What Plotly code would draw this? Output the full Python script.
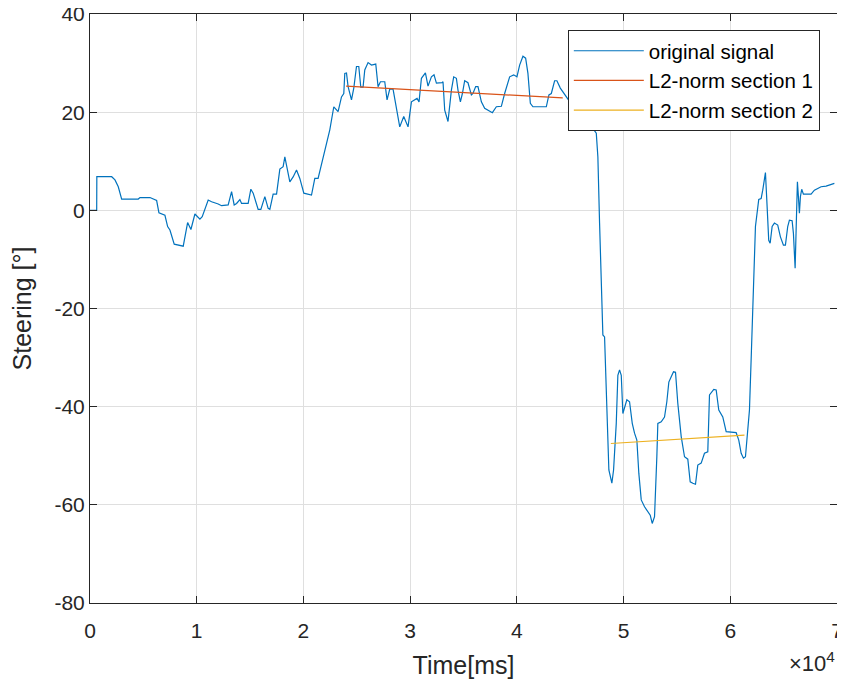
import plotly.graph_objects as go

# original steering signal (time in ms, angle in degrees)
time_ms = [0, 627, 640, 2032, 2341, 2650, 2968, 4522, 4682, 5618, 6245, 6460, 7022, 7275, 7490,
           7893, 8736, 9148, 9457, 9831, 10299, 10515, 11076, 11395, 12013, 12331, 12949, 13267,
           13511, 13736, 14045, 14203, 14821, 15074, 15290, 15758, 16011, 16385, 16694, 16853,
           17162, 17481, 17790, 18099, 18258, 18417, 18726, 19035, 19353, 19662, 20037, 20757,
           21067, 21376, 21844, 22471, 22846, 23248, 23567, 23782, 23876, 24035, 24185, 24503,
           24718, 24971, 25186, 25374, 25589, 25748, 26057, 26376, 26778, 26994, 27218, 27621,
           27836, 28089, 28398, 28651, 29025, 29400, 29802, 30121, 30430, 30645, 30833, 31057,
           31431, 31675, 31993, 32237, 32462, 32986, 33080, 33239, 33548, 33866, 34081, 34334,
           34484, 34709, 34896, 35111, 35420, 35738, 35888, 36141, 36357, 36675, 36984, 37293,
           37705, 38079, 38547, 38856, 39325, 39699, 40008, 40261, 40570, 40823, 41038, 41263,
           41506, 42761, 43004, 43229, 43538, 43753, 44072, 45000, 45900, 46628, 47124, 47443,
           47592, 47751, 47910, 48060, 48219, 48379, 48622, 48903, 49062, 49315, 49465, 49624,
           49783, 49933, 50092, 50308, 50560, 50813, 51028, 51244, 51431, 51656, 51965, 52274,
           52498, 52685, 52901, 53118, 53211, 53528, 53837, 54054, 54241, 54465, 54680, 54867,
           55082, 55401, 55710, 56019, 56243, 56487, 56740, 56955, 57273, 57582, 57891, 58051,
           58454, 58678, 58922, 59297, 59615, 60550, 60794, 61019, 61234, 61421, 61636, 61796,
           61983, 62198, 62358, 62667, 62891, 63041, 63294, 63453, 63603, 63735, 63922, 64137,
           64446, 64698, 64979, 65167, 65382, 65541, 65794, 65916, 66076, 66169, 66290, 66384,
           66477, 66571, 66693, 66852, 67572, 67882, 68350, 68509, 68978, 69286, 69595, 69754]
steering = [0, 0, 6.85, 6.85, 6.2, 4.8, 2.3, 2.3, 2.6, 2.6, 2.0, -0.5, -1.0, -3.3, -4.0,
            -6.9, -7.3, -2.5, -3.9, -0.75, -1.8, -1.3, 2.1, 1.75, 1.3, 0.95, 1.1, 3.8,
            1.1, 1.4, 2.2, 1.4, 1.4, 4.3, 3.5, 0.2, 0.2, 2.8, 0.4, 0.2,
            3.3, 3.3, 8.4, 8.9, 10.9, 9.2, 5.8, 6.8, 8.2, 6.5, 3.5, 3.1,
            6.5, 6.5, 10.9, 16.4, 21.1, 20.1, 23.1, 23.8, 27.9, 28.0, 25.2, 22.5,
            24.9, 29.3, 29.3, 25.1, 25.1, 28.6, 30.1, 29.6, 29.8, 25.2, 26.2, 26.2,
            22.5, 24.7, 24.7, 21.8, 17.0, 19.1, 17.0, 22.1, 22.5, 22.8, 22.1, 26.9,
            28.0, 25.3, 27.2, 27.6, 25.9, 26.0, 26.2, 20.4, 18.1, 24.5, 27.2, 26.9,
            24.5, 22.1, 23.8, 26.4, 26.0, 23.5, 23.8, 25.2, 25.2, 22.1, 20.8, 20.4,
            19.9, 21.1, 21.2, 23.8, 27.2, 27.6, 27.2, 29.6, 31.4, 31.0, 27.9, 21.8,
            21.1, 21.1, 23.5, 23.8, 26.4, 26.4, 24.9, 22.0, 19.0, 17.6, 16.7, 15.7,
            10.9, -2.6, -16.2, -25.4, -25.8, -36.6, -52.9, -55.6, -52.9, -43.4, -33.6, -32.5,
            -33.6, -41.4, -40.0, -38.6, -39.0, -43.4, -45.4, -46.8, -53.6, -59.0, -60.4, -61.4,
            -62.1, -63.8, -62.4, -50.2, -43.4, -43.1, -42.1, -39.0, -35.0, -33.9, -32.9, -33.0,
            -39.3, -46.1, -50.2, -50.7, -55.3, -55.6, -55.8, -51.9, -51.5, -49.5, -49.2, -37.6,
            -36.5, -36.6, -40.7, -42.1, -45.1, -45.3, -46.8, -49.5, -50.5, -50.2, -43.7, -40.7,
            -28.5, -14.2, -3.3, 2.2, 2.4, 4.1, 7.7, 0.7, -6.1, -6.7, -3.3, -2.6,
            -3.0, -5.4, -7.1, -7.1, -3.3, -2.0, -2.1, -4.7, -11.8, -4.0, 5.8, 2.8,
            -0.6, 2.8, 4.3, 3.3, 3.3, 4.1, 4.7, 4.8, 4.95, 5.2, 5.5, 5.5]

# linear L2-norm fits per section
sec1_time = [24000, 44300]
sec1_val = [25.3, 22.9]
sec2_time = [48810, 61330]
sec2_val = [-47.5, -45.8]

x_ticks = [0, 10000, 20000, 30000, 40000, 50000, 60000, 70000]
x_ticklabels = ["0", "1", "2", "3", "4", "5", "6", "7"]
y_ticks = [-80, -60, -40, -20, 0, 20, 40]
y_ticklabels = ["-80", "-60", "-40", "-20", "0", "20", "40"]

fig = go.Figure()
fig.add_trace(go.Scatter(x=time_ms, y=steering, mode="lines", name="original signal",
                         line=dict(color="#0072BD", width=1.2)))
fig.add_trace(go.Scatter(x=sec1_time, y=sec1_val, mode="lines", name="L2-norm section 1",
                         line=dict(color="#D95319", width=1.2)))
fig.add_trace(go.Scatter(x=sec2_time, y=sec2_val, mode="lines", name="L2-norm section 2",
                         line=dict(color="#EDB120", width=1.2)))

axis_style = dict(showline=True, linecolor="#262626", linewidth=1, mirror="ticks",
                  ticks="inside", ticklen=7, tickcolor="#262626", automargin=False,
                  ticklabeloverflow="allow",
                  showgrid=True, gridcolor="#dfdfdf", gridwidth=1, zeroline=False,
                  tickfont=dict(size=21, color="#262626"))

fig.update_xaxes(range=[0, 70000], tickvals=x_ticks, ticktext=x_ticklabels,
                 ticklabelstandoff=9,
                 title=dict(text="Time[ms]", font=dict(size=25, color="#262626")),
                 **axis_style)
fig.update_yaxes(range=[-80, 40], tickvals=y_ticks, ticktext=y_ticklabels,
                 title=dict(text="Steering [°]", font=dict(size=25, color="#262626")),
                 **axis_style)

fig.add_annotation(text="×10<sup>4</sup>", xref="paper", yref="paper", x=1.0, y=-0.1,
                   xanchor="right", yanchor="middle", showarrow=False,
                   font=dict(size=22, color="#262626"))

# page body has an 8px margin, so the figure is 8px smaller and margins shifted
fig.update_layout(
    width=837, height=674,
    margin=dict(l=82, r=8, t=6, b=79),
    plot_bgcolor="white", paper_bgcolor="white",
    font=dict(family="Liberation Sans, Arial, sans-serif", color="#262626"),
    legend=dict(x=0.977, y=0.973, xanchor="right", yanchor="top",
                bgcolor="white", bordercolor="#262626", borderwidth=1,
                font=dict(size=20.5, color="#000000"), itemwidth=70, tracegroupgap=0),
)

fig.write_html("out.html")
